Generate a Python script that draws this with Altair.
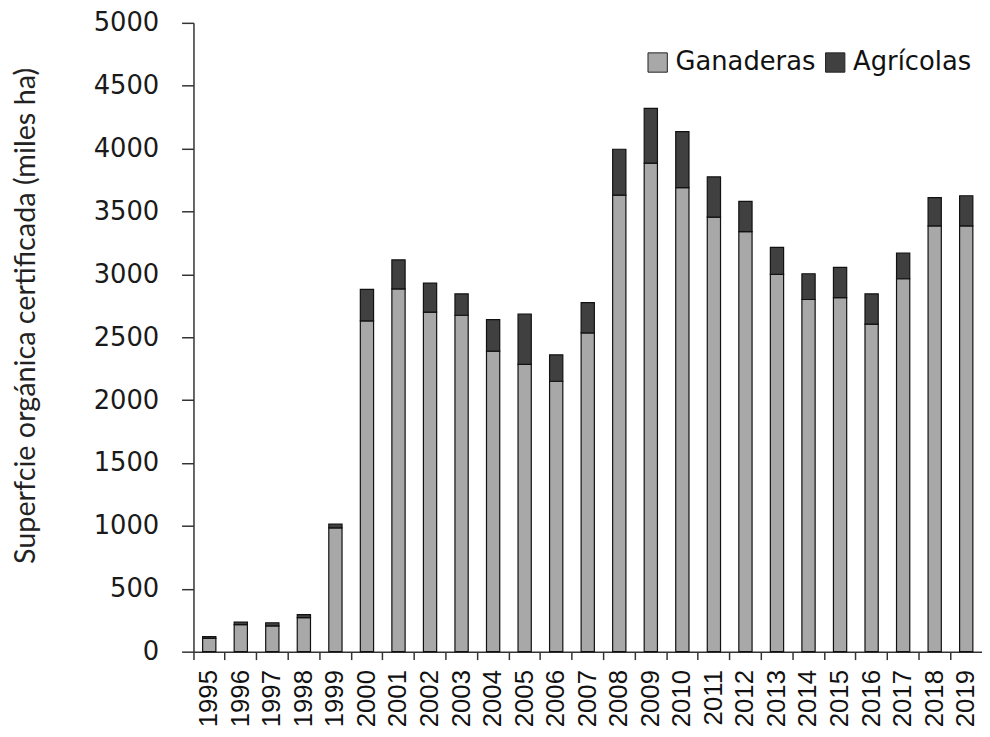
import altair as alt
import pandas as pd

years = [str(y) for y in range(1995, 2020)]
ganaderas = [105, 215, 205, 270, 985, 2630, 2885, 2700, 2675, 2390, 2285, 2150, 2535,
             3630, 3885, 3690, 3455, 3340, 3000, 2800, 2815, 2605, 2965, 3385, 3385]
agricolas = [15, 20, 25, 25, 30, 250, 230, 230, 170, 250, 400, 210, 240,
             365, 435, 445, 320, 240, 215, 205, 240, 240, 205, 225, 240]
series = ["Ganaderas", "Agrícolas"]
colors = ["#a8a8a8", "#404040"]

rows = []
for i, y in enumerate(years):
    rows.append({"year": y, "tipo": series[0], "valor": ganaderas[i], "ord": 0})
    rows.append({"year": y, "tipo": series[1], "valor": agricolas[i], "ord": 1})
df = pd.DataFrame(rows)

chart = alt.Chart(df).mark_bar(
    width=alt.RelativeBandSize(0.42), stroke="#111111", strokeWidth=1.2
).encode(
    x=alt.X("year:N", sort=years,
            scale=alt.Scale(paddingInner=0, paddingOuter=0),
            axis=alt.Axis(title=None, labelAngle=-90, bandPosition=0,
                          labelFont="Liberation Sans", labelFontSize=26,
                          labelColor="#111111", labelPadding=10,
                          tickSize=8, tickColor="#333333", tickWidth=1.5,
                          domainColor="#333333", domainWidth=1.5, grid=False)),
    y=alt.Y("valor:Q", stack="zero",
            scale=alt.Scale(domain=[0, 5000], nice=False),
            axis=alt.Axis(values=list(range(0, 5001, 500)), grid=False, format="d",
                          title="Superfcie orgánica certificada (miles ha)",
                          titleFont="Lato", titleFontSize=29, titleFontWeight="normal",
                          titleColor="#222222", titleAngle=-90,
                          titleX=-169, titleY=295, titleAlign="center",
                          titleBaseline="middle",
                          labelFont="DejaVu Sans", labelFontSize=26,
                          labelColor="#1a1a1a", labelPadding=23,
                          tickSize=12, tickColor="#333333", tickWidth=1.5,
                          domainColor="#333333", domainWidth=1.5)),
    color=alt.Color("tipo:N", sort=series,
                    scale=alt.Scale(domain=series, range=colors),
                    legend=alt.Legend(title=None, orient="none", direction="horizontal",
                                      legendX=455, legendY=27,
                                      symbolType="square", symbolSize=380,
                                      symbolStrokeColor="#222222", symbolStrokeWidth=1,
                                      labelFont="DejaVu Sans", labelFontSize=26,
                                      labelColor="#111111", labelOffset=5,
                                      columnPadding=6)),
    order=alt.Order("ord:Q", sort="ascending"),
).properties(
    width=795, height=634,
    autosize=alt.AutoSizeParams(type="none"),
    padding={"left": 187, "top": 12, "right": 0, "bottom": 75},
).configure_view(stroke=None)

chart.save("out.html", embed_options={"renderer": "svg", "actions": False})
